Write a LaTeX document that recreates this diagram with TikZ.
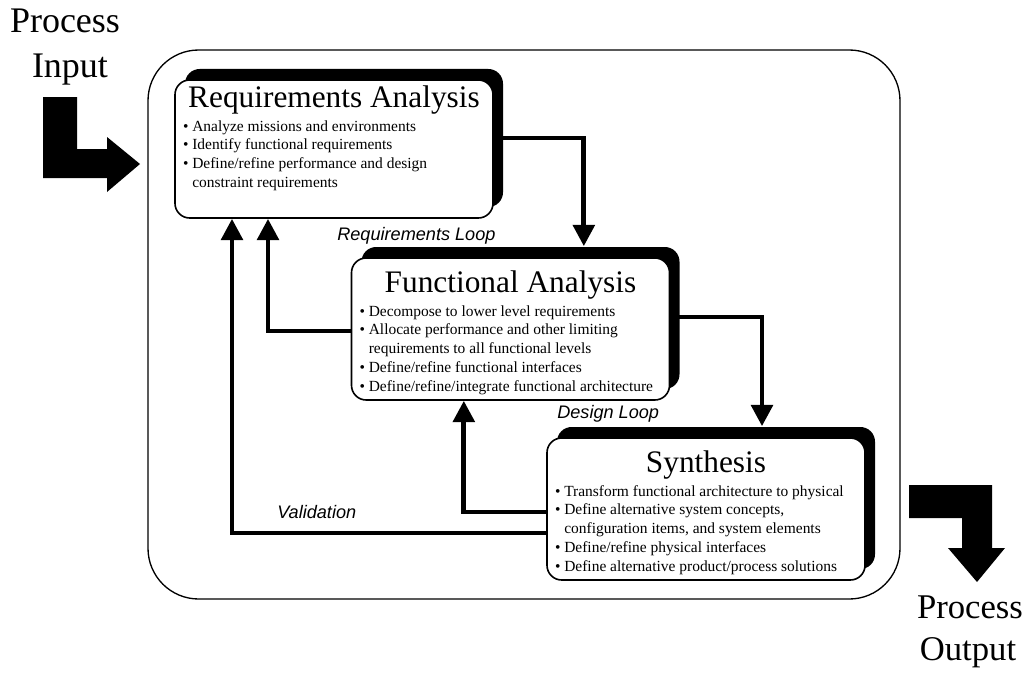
\documentclass[tikz,border=0pt]{standalone}
\usepackage{fontspec}
\setmainfont{Liberation Serif}
\newfontfamily\loopfont{Liberation Sans}
\usetikzlibrary{arrows.meta,shadows}

\tikzset{
  phase/.style={draw, line width=1.2pt, fill=white, rounded corners=11pt,
    inner xsep=6pt, inner ysep=0pt,
    drop shadow={shadow xshift=7.5pt, shadow yshift=8.25pt, opacity=1, fill=black}},
  flow/.style={line width=3.6pt, -{Triangle[length=16pt,width=16pt]}},
  looptext/.style={font=\loopfont\itshape\fontsize{13.6}{16}\selectfont, inner sep=0pt},
  iotext/.style={font=\fontsize{26}{30}\selectfont, inner sep=0pt}
}

% box body: height, title baseline, title, items
\newcommand{\phasebody}[4]{%
  \parbox[c][#1][t]{226.5pt}{\centering
    \fontsize{23.5}{24}\selectfont\rule{0pt}{#2}#3\par
    \raggedright\fontsize{11.6}{14.1}\selectfont\vspace{3.9pt}#4}}
\newcommand{\pitem}[1]{\par\hangindent=7pt\hangafter=1\textbullet\ #1}

\begin{document}
\begin{tikzpicture}[x=0.75pt,y=-0.75pt]
    \useasboundingbox (0,0) rectangle (1031,674);

    %cornice del processo
    \node[draw, line width=1pt, rounded corners=38pt, minimum width=564pt,
      minimum height=411.75pt, inner sep=0pt] (frame) at (524,324.5) {};

    %blocchi
    \node[phase] (req) at (334,149) {\phasebody{103.5pt}{20.25pt}{Requirements Analysis}{%
      \pitem{Analyze missions and environments}
      \pitem{Identify functional requirements}
      \pitem{Define/refine performance and design\newline constraint requirements}}};
    \node[phase] (func) at (510.5,329) {\phasebody{106.5pt}{25.5pt}{Functional Analysis}{%
      \pitem{Decompose to lower level requirements}
      \pitem{Allocate performance and other limiting\newline requirements to all functional levels}
      \pitem{Define/refine functional interfaces}
      \pitem{Define/refine/integrate functional architecture}}};
    \node[phase] (synth) at (706,509) {\phasebody{106.5pt}{25.5pt}{Synthesis}{%
      \pitem{Transform functional architecture to physical}
      \pitem{Define alternative system concepts,\newline configuration items, and system elements}
      \pitem{Define/refine physical interfaces}
      \pitem{Define alternative product/process solutions}}};

    %frecce tra i blocchi
    \draw[flow] ([yshift=8.25pt]req.east) -| ([xshift=55pt,yshift=8.25pt]func.north);
    \draw[flow] ([yshift=9pt]func.east) -| ([xshift=42pt,yshift=8.25pt]synth.north);
    \draw[flow] ([yshift=-1.5pt]func.west) -| ([xshift=-49.5pt]req.south);
    \draw[flow] ([yshift=-2.25pt]synth.west) -| ([xshift=-35pt]func.south);
    \draw[flow] ([yshift=-18pt]synth.west) -| ([xshift=-76.5pt]req.south);

    %label dei loop
    \node[looptext, anchor=base west] (reqloop) at (337,240) {Requirements Loop};
    \node[looptext, anchor=base west] (desloop) at (557,418) {Design Loop};
    \node[looptext, anchor=base west] (valid) at (277,518) {Validation};

    %ingresso e uscita
    \fill (43,97) -- (77,97) -- (77,149) -- (107,149) -- (107,137) -- (140,164)
      -- (107,192) -- (107,178) -- (43,178) -- cycle;
    \node[iotext, font=\fontsize{27}{30}\selectfont, anchor=base] (inproc) at (65,33) {Process};
    \node[iotext, font=\fontsize{27}{30}\selectfont, anchor=base] (inword) at (70,78) {Input};

    \fill (909,485) -- (992,485) -- (992,548) -- (1005,548) -- (977,582)
      -- (948,548) -- (962,548) -- (962,518) -- (909,518) -- cycle;
    \node[iotext, anchor=base] (outproc) at (970,618) {Process};
    \node[iotext, anchor=base] (outword) at (968,660) {Output};
\end{tikzpicture}
\end{document}
